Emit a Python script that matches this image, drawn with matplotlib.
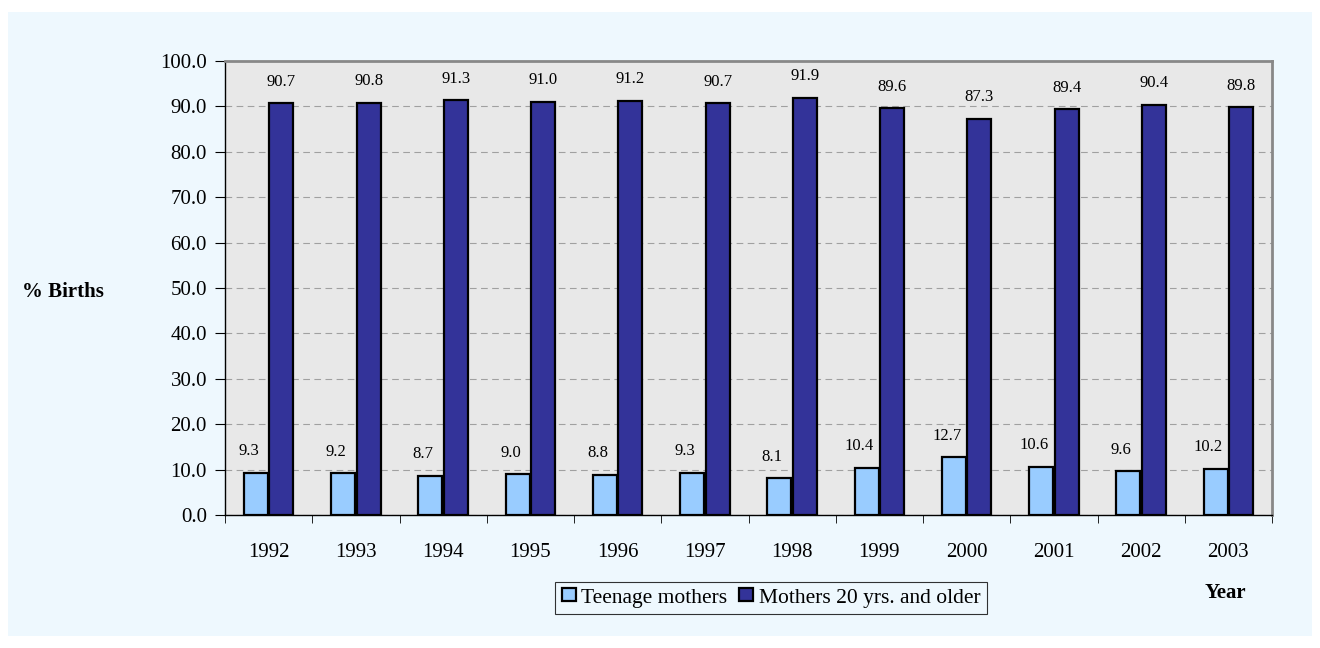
import matplotlib.pyplot as plt
import numpy as np
from matplotlib.patches import Rectangle

years = ["1992", "1993", "1994", "1995", "1996", "1997", "1998", "1999", "2000", "2001", "2002", "2003"]
teen = [9.3, 9.2, 8.7, 9.0, 8.8, 9.3, 8.1, 10.4, 12.7, 10.6, 9.6, 10.2]
older = [90.7, 90.8, 91.3, 91.0, 91.2, 90.7, 91.9, 89.6, 87.3, 89.4, 90.4, 89.8]

plt.rcParams['font.family'] = ['Liberation Serif', 'DejaVu Serif']

fig = plt.figure(figsize=(13.2, 6.48), dpi=100)
fig.patch.set_facecolor("white")
# light blue panel behind everything
bg = fig.add_axes([0, 0, 1, 1], zorder=-1)
bg.axis("off")
bg.add_patch(Rectangle((8/1320, 12/648), 1304/1320, 624/648, transform=bg.transAxes,
                       facecolor="#EEF8FE", edgecolor="none"))

ax = fig.add_axes([225/1320, 1-515/648, 1047/1320, 454/648], zorder=1)
ax.set_facecolor("#E8E8E8")

x = np.arange(len(years))
w = 0.275
b1 = ax.bar(x - w/2 - 0.01, teen, w, color="#99CCFF", edgecolor="black", linewidth=1.6, label="Teenage mothers", zorder=3)
b2 = ax.bar(x + w/2 + 0.01, older, w, color="#333399", edgecolor="black", linewidth=1.6, label="Mothers 20 yrs. and older", zorder=3)

for bars, vals, dx in ((b1, teen, -0.08), (b2, older, 0.0)):
    for r, v in zip(bars, vals):
        ax.text(r.get_x() + r.get_width()/2 + dx, v + 3.0, "%.1f" % v, ha="center", va="bottom",
                fontsize=12, zorder=2)

ax.set_xlim(-0.5, len(years) - 0.5)
ax.set_ylim(0, 100)
ax.set_yticks(np.arange(0, 101, 10))
ax.set_yticklabels(["%.1f" % t for t in np.arange(0, 101, 10)], fontsize=15)
ax.yaxis.grid(True, linestyle=(0, (6, 4)), color="#A0A0A0", linewidth=0.8, zorder=0)

ax.set_xticks(x)
ax.set_xticklabels(years, fontsize=15)
ax.tick_params(axis="x", length=0, pad=20)
ax.set_xticks(np.arange(-0.5, len(years), 1), minor=True)
ax.tick_params(axis="x", which="minor", length=6, direction="out")
ax.tick_params(axis="y", length=7, direction="out", pad=6)

for s in ("top", "right"):
    ax.spines[s].set_color("#888888")
    ax.spines[s].set_linewidth(2)
for s in ("left", "bottom"):
    ax.spines[s].set_color("black")
    ax.spines[s].set_linewidth(1.0)

fig.text(63/1320, 1-292/648, "% Births", fontsize=15, fontweight="bold", ha="center", va="center")
fig.text(1225/1320, 1-593/648, "Year", fontsize=15, fontweight="bold", ha="center", va="center")

leg = fig.legend(loc="center", bbox_to_anchor=(771/1320, 1-598/648), ncol=2, fontsize=15.5,
                 frameon=True, fancybox=False, edgecolor="black", facecolor="none",
                 handlelength=0.65, handleheight=0.55, handletextpad=0.25, columnspacing=0.55,
                 borderpad=0.3, borderaxespad=0)
leg.get_frame().set_linewidth(0.8)

fig.savefig("out.png", dpi=100)
